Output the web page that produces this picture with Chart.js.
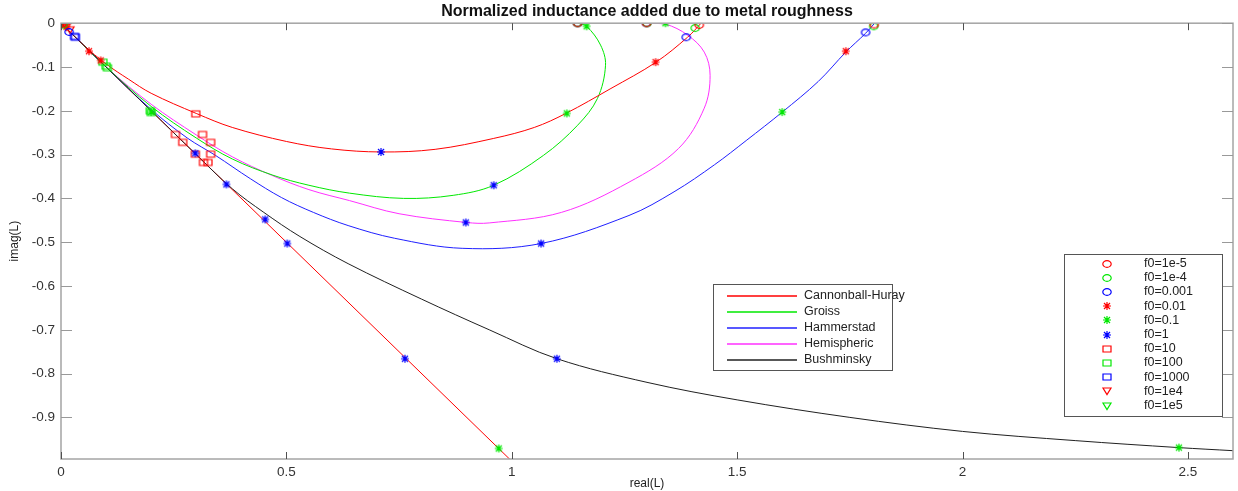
<!DOCTYPE html>
<html>
<head>
<meta charset="utf-8">
<title>Normalized inductance added due to metal roughness</title>
<script src="https://cdn.jsdelivr.net/npm/chart.js@4.4.1/dist/chart.umd.min.js"></script>
<style>
  html, body { margin: 0; padding: 0; background: #fff; }
</style>
</head>
<body>
<canvas id="chart" width="1238" height="491"></canvas>
<script>
// Roughness models, traced in the complex plane as [real(L), imag(L)]
const modelNames = ["Cannonball-Huray", "Groiss", "Hammerstad", "Hemispheric", "Bushminsky"];
const modelColors = ["#ff0000", "#00e800", "#2020ff", "#ff30ff", "#202020"];

const huray = [[0, 0], [0.05, -0.05], [0.1, -0.093], [0.15, -0.128], [0.2, -0.16], [0.3, -0.206],
    [0.38, -0.238], [0.5, -0.27], [0.6, -0.287], [0.71, -0.294], [0.83, -0.288], [0.96, -0.263],
    [1.05, -0.238], [1.12, -0.206], [1.22, -0.149], [1.32, -0.089], [1.39, -0.032], [1.42, 0]];
const groiss = [[0, 0], [0.1, -0.1], [0.2, -0.19], [0.3, -0.262], [0.38, -0.31], [0.47, -0.347],
    [0.55, -0.37], [0.64, -0.388], [0.76, -0.4], [0.87, -0.393], [0.96, -0.37], [1.07, -0.302],
    [1.146, -0.233], [1.19, -0.172], [1.208, -0.096], [1.197, -0.05], [1.166, -0.007], [1.146, 0]];
const hammerstad = [[0, 0], [0.1, -0.1], [0.2, -0.197], [0.28, -0.262], [0.343, -0.302], [0.42, -0.355],
    [0.489, -0.398], [0.56, -0.432], [0.637, -0.462], [0.74, -0.491], [0.89, -0.514], [1.065, -0.503],
    [1.26, -0.439], [1.36, -0.385], [1.45, -0.323], [1.52, -0.268], [1.6, -0.203], [1.68, -0.133],
    [1.741, -0.066], [1.785, -0.023], [1.805, 0]];
const hemispheric = [[0, 0], [0.1, -0.1], [0.2, -0.185], [0.3, -0.255], [0.38, -0.305], [0.467, -0.347],
    [0.55, -0.38], [0.64, -0.405], [0.75, -0.435], [0.9, -0.455], [0.95, -0.456], [1.11, -0.432],
    [1.26, -0.363], [1.37, -0.286], [1.427, -0.194], [1.44, -0.119], [1.427, -0.066], [1.39, -0.027],
    [1.341, -0.002], [1.3, 0]];
const bushminsky = [[0, 0], [0.1, -0.1], [0.2, -0.2], [0.3, -0.3], [0.38, -0.378], [0.45, -0.432],
    [0.53, -0.487], [0.637, -0.549], [0.8, -0.63], [0.95, -0.7], [1.1, -0.766],
    [1.3, -0.82], [1.5, -0.86], [1.75, -0.9], [2.0, -0.932], [2.25, -0.953], [2.48, -0.969], [2.6, -0.976]];
// smooth-conductor reference, imag = -real
const smoothLine = [[0, 0], [1.02, -1.02]];

// marker positions for each normalized frequency f0
const f0Labels = ["f0=1e-5", "f0=1e-4", "f0=0.001", "f0=0.01", "f0=0.1", "f0=1",
    "f0=10", "f0=100", "f0=1000", "f0=1e4", "f0=1e5"];
const f0Shapes = ["o", "o", "o", "*", "*", "*", "s", "s", "s", "v", "v"];
const f0Colors = ["#ff0000", "#00e800", "#0000ff", "#ff0000", "#00e800", "#0000ff",
    "#ff0000", "#00e800", "#0000ff", "#ff0000", "#00e800"];

const mk1em5 = [[1.146, 0], [1.299, 0], [1.416, -0.004], [1.804, -0.003], [0.002, -0.001]];
const mk1em4 = [[1.146, 0], [1.3, 0], [1.407, -0.011], [1.803, -0.007], [0.004, -0.003]];
const mk1em3 = [[1.146, 0], [1.299, 0], [1.387, -0.032], [1.785, -0.021], [0.018, -0.02]];
const mk1em2 = [[1.319, -0.089], [1.741, -0.064], [0.062, -0.064], [0.088, -0.085], [0.012, -0.008]];
const mk1em1 = [[1.122, -0.206], [1.166, -0.007], [1.341, 0], [1.6, -0.203], [2.48, -0.969],
    [0.971, -0.971], [0.2, -0.203]];
const mk1 = [[0.71, -0.294], [0.96, -0.37], [0.898, -0.455], [1.065, -0.503], [1.1, -0.766],
    [0.763, -0.766], [0.298, -0.297], [0.367, -0.368], [0.453, -0.448], [0.502, -0.503]];
const mk10 = [[0.299, -0.207], [0.314, -0.254], [0.332, -0.272], [0.332, -0.299], [0.254, -0.254],
    [0.27, -0.272], [0.298, -0.299], [0.316, -0.318], [0.326, -0.318]];
const mk100 = [[0.2, -0.204], [0.198, -0.2], [0.1, -0.098], [0.093, -0.089], [0.103, -0.102]];
const mk1000 = [[0.032, -0.032], [0.03, -0.03]];
const mk1e4 = [[0.002, -0.001], [0.012, -0.008], [0.02, -0.015]];
const mk1e5 = [[0.001, 0], [0.008, -0.004]];

const xTickStep = 0.5;
const yTickStep = 0.1;

const modelCurves = [huray, groiss, hammerstad, hemispheric, bushminsky];
const f0Points = [mk1em5, mk1em4, mk1em3, mk1em2, mk1em1, mk1, mk10, mk100, mk1000, mk1e4, mk1e5];

const toXY = (pts) => pts.map(([x, y]) => ({ x: x, y: y }));
const FONT = "'Liberation Sans', Arial, sans-serif";

// small canvas sprites for the plot markers (o, *, square, down triangle)
function makeMarker(shape, color) {
    const c = document.createElement("canvas");
    c.width = 12;
    c.height = 10;
    const g = c.getContext("2d");
    g.strokeStyle = color;
    g.lineWidth = 1.2;
    g.beginPath();
    if (shape === "o") {
        g.ellipse(6, 5, 4.2, 3.4, 0, 0, Math.PI * 2);
    } else if (shape === "s") {
        g.rect(2, 2, 8, 6);
    } else if (shape === "v") {
        g.moveTo(2, 2);
        g.lineTo(10, 2);
        g.lineTo(6, 8.5);
        g.closePath();
    } else {
        g.moveTo(2, 5); g.lineTo(10, 5);
        g.moveTo(6, 1); g.lineTo(6, 9);
        g.moveTo(3, 2); g.lineTo(9, 8);
        g.moveTo(9, 2); g.lineTo(3, 8);
    }
    g.stroke();
    return c;
}
const f0Sprites = f0Shapes.map((s, i) => makeMarker(s, f0Colors[i]));

const datasets = [];

datasets.push({
    label: "smooth",
    data: toXY(smoothLine),
    showLine: true,
    borderColor: modelColors[0],
    borderWidth: 1,
    pointRadius: 0,
    order: 3,
});

modelCurves.forEach((pts, i) => {
    datasets.push({
        label: modelNames[i],
        data: toXY(pts),
        showLine: true,
        borderColor: modelColors[i],
        borderWidth: 1,
        pointRadius: 0,
        tension: 0.35,
        order: i === 4 ? 1 : 2,
    });
});

f0Points.forEach((pts, i) => {
    datasets.push({
        label: f0Labels[i],
        data: toXY(pts),
        showLine: false,
        pointStyle: f0Sprites[i],
        pointRadius: 4,
        borderColor: f0Colors[i],
        order: 0,
    });
});

// axes box with inward ticks, plus the two legend boxes
const frameAndLegends = {
    id: "frameAndLegends",
    afterDatasetsDraw(chart) {
        const { ctx, chartArea: a, scales: { x, y } } = chart;
        ctx.save();

        ctx.strokeStyle = "#a4a4a4";
        ctx.lineWidth = 1.5;
        ctx.strokeRect(a.left, a.top, a.right - a.left, a.bottom - a.top);

        ctx.lineWidth = 1;
        ctx.strokeStyle = "#505050";
        ctx.beginPath();
        x.ticks.forEach((t) => {
            const px = Math.round(x.getPixelForValue(t.value)) + 0.5;
            ctx.moveTo(px, a.bottom);
            ctx.lineTo(px, a.bottom - 7);
            ctx.moveTo(px, a.top);
            ctx.lineTo(px, a.top + 7);
        });
        ctx.stroke();
        ctx.strokeStyle = "#999";
        ctx.beginPath();
        y.ticks.forEach((t) => {
            const py = Math.round(y.getPixelForValue(t.value)) + 0.5;
            ctx.moveTo(a.left, py);
            ctx.lineTo(a.left + 11, py);
            ctx.moveTo(a.right, py);
            ctx.lineTo(a.right - 11, py);
        });
        ctx.stroke();

        ctx.font = "12.5px " + FONT;
        ctx.textBaseline = "middle";

        // model legend
        ctx.fillStyle = "#fff";
        ctx.fillRect(713.5, 284.5, 179, 86);
        ctx.strokeStyle = "#555";
        ctx.lineWidth = 1;
        ctx.strokeRect(713.5, 284.5, 179, 86);
        ctx.lineWidth = 1.3;
        modelNames.forEach((name, i) => {
            const ry = 296 + i * 16;
            ctx.strokeStyle = modelColors[i];
            ctx.beginPath();
            ctx.moveTo(727, ry);
            ctx.lineTo(797, ry);
            ctx.stroke();
            ctx.fillStyle = "#222";
            ctx.fillText(name, 804, ry);
        });

        // f0 legend
        ctx.lineWidth = 1;
        ctx.fillStyle = "#fff";
        ctx.fillRect(1064.5, 254.5, 158, 162);
        ctx.strokeStyle = "#555";
        ctx.strokeRect(1064.5, 254.5, 158, 162);
        f0Labels.forEach((name, i) => {
            const ry = 263.5 + i * 14.2;
            const img = f0Sprites[i];
            ctx.drawImage(img, Math.round(1107 - img.width / 2), Math.round(ry - img.height / 2));
            ctx.fillStyle = "#222";
            ctx.fillText(name, 1144, ry);
        });

        ctx.restore();
    },
};

const fmt = (v) => String(parseFloat(Number(v).toFixed(2)));

new Chart(document.getElementById("chart"), {
    type: "scatter",
    data: { datasets: datasets },
    options: {
        responsive: false,
        animation: false,
        events: [],
        layout: { padding: { left: 0, right: 1, top: 0, bottom: 0 } },
        plugins: {
            legend: { display: false },
            tooltip: { enabled: false },
            title: {
                display: true,
                fullSize: false,
                text: "Normalized inductance added due to metal roughness",
                color: "#111",
                font: { family: FONT, size: 16, weight: "bold" },
                padding: { top: 2, bottom: 2 },
            },
        },
        scales: {
            x: {
                type: "linear",
                min: 0,
                max: 2.6,
                grid: { display: false, drawTicks: false },
                border: { display: false },
                ticks: {
                    stepSize: xTickStep,
                    includeBounds: false,
                    padding: 5,
                    maxRotation: 0,
                    color: "#333",
                    font: { family: FONT, size: 13.5 },
                    callback: fmt,
                },
                title: {
                    display: true,
                    text: "real(L)",
                    color: "#222",
                    padding: 0,
                    font: { family: FONT, size: 12 },
                },
                afterFit(scale) { scale.height = 32; },
            },
            y: {
                type: "linear",
                min: -0.995,
                max: 0,
                grid: { display: false, drawTicks: false },
                border: { display: false },
                ticks: {
                    stepSize: yTickStep,
                    includeBounds: false,
                    padding: 6,
                    color: "#333",
                    font: { family: FONT, size: 13.5 },
                    callback: fmt,
                },
                title: {
                    display: true,
                    text: "imag(L)",
                    color: "#222",
                    padding: { top: 7, bottom: 0 },
                    font: { family: FONT, size: 12 },
                },
                afterFit(scale) { scale.width = 61; },
            },
        },
    },
    plugins: [frameAndLegends],
});
</script>
</body>
</html>
